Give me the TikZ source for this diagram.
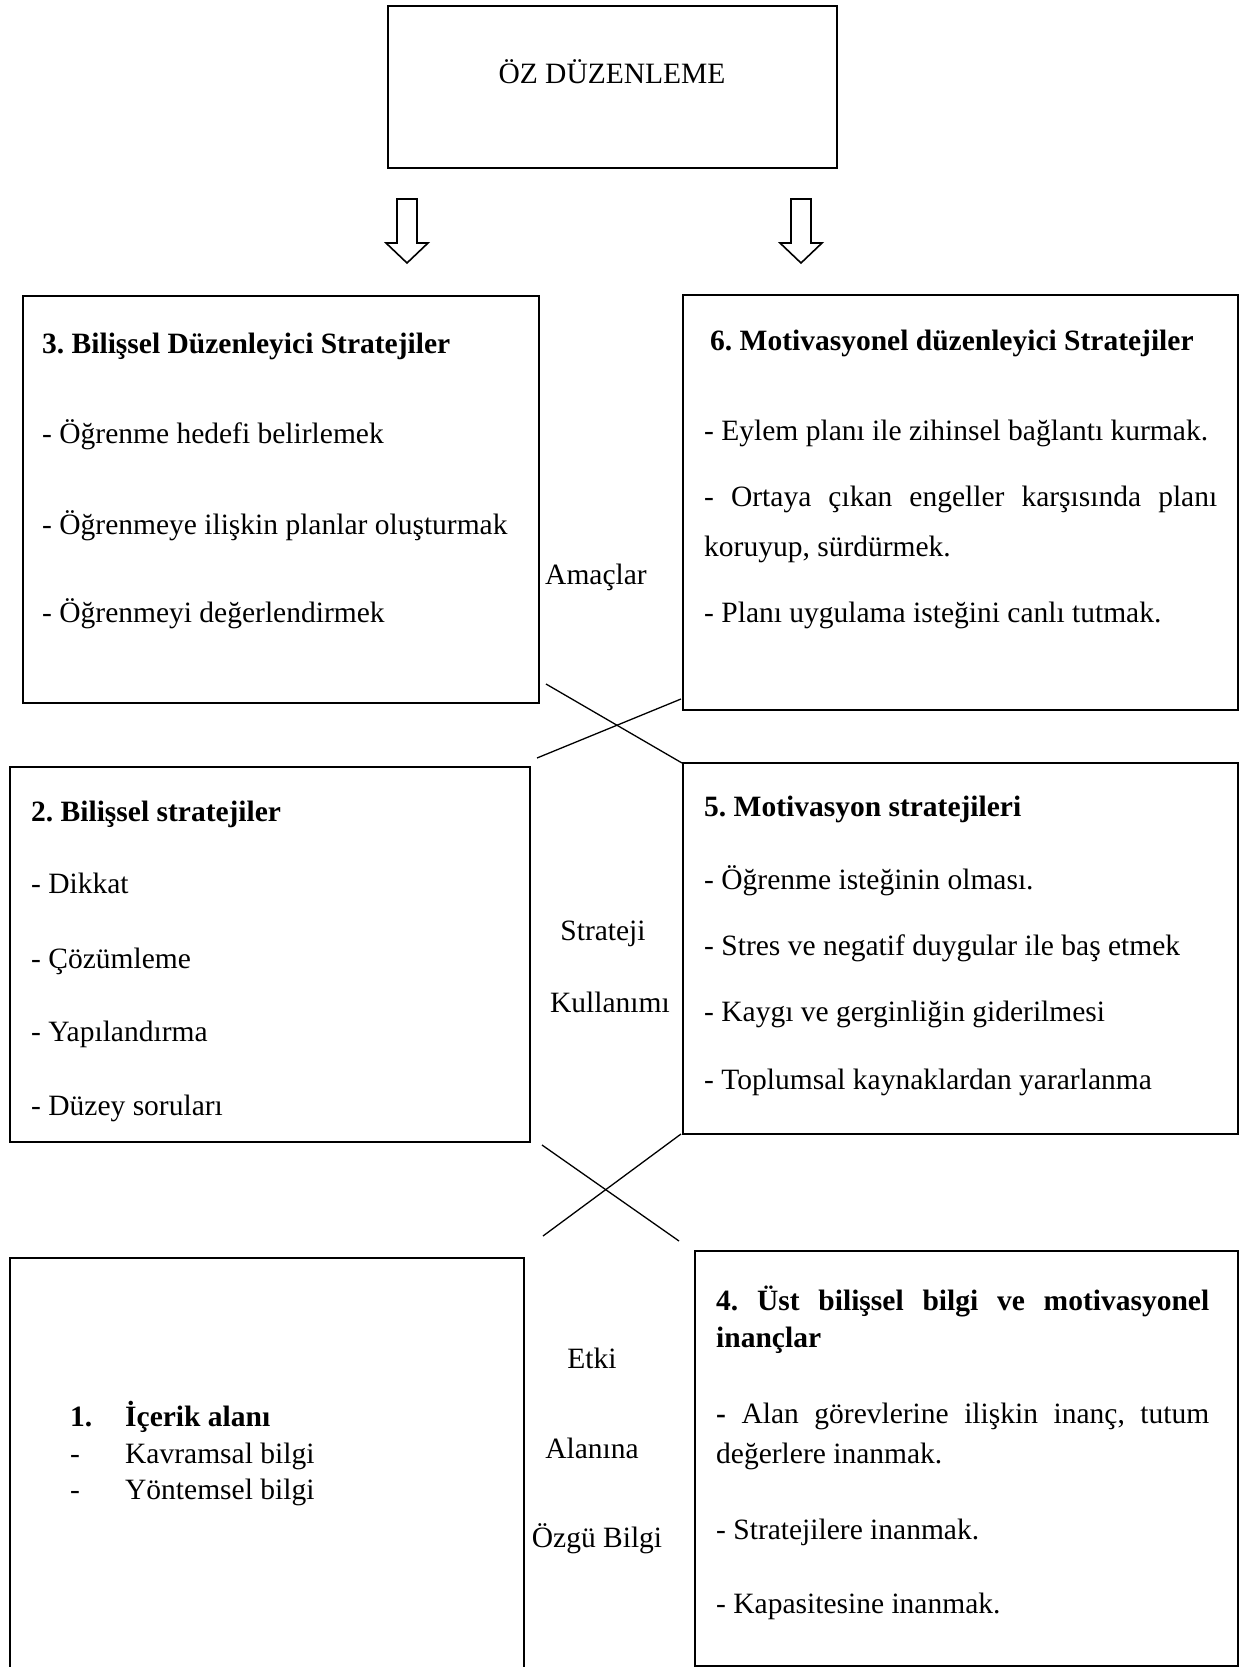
\documentclass[tikz,border=0pt]{standalone}
\usepackage{fontspec}
\setmainfont{Liberation Serif}
\usepackage{tikz}
\frenchspacing

\begin{document}
\begin{tikzpicture}[x=1pt,y=1pt,yscale=-1,xscale=1,
  kutu/.style={draw, line width=2.4pt, inner sep=0pt, anchor=north west},
  yazi/.style={inner sep=0pt, anchor=base west, font=\fontsize{29.5}{35}\selectfont},
  baslik/.style={inner sep=0pt, anchor=base west, font=\fontsize{29.5}{35}\selectfont\bfseries},
  orta/.style={inner sep=0pt, anchor=base, font=\fontsize{29.5}{35}\selectfont},
  capraz/.style={line width=1.3pt}]
\clip (0,0) rectangle (1239,1667);

%Shape: Rectangle
\node[kutu, minimum width=449, minimum height=162] (oz) at (387,5) {};
%Shape: Rectangle
\node[kutu, minimum width=516, minimum height=407] (bilduz) at (22,295) {};
%Shape: Rectangle
\node[kutu, minimum width=555, minimum height=415] (motduz) at (682,294) {};
%Shape: Rectangle
\node[kutu, minimum width=520, minimum height=375] (bilstr) at (9,766) {};
%Shape: Rectangle
\node[kutu, minimum width=555, minimum height=371] (motstr) at (682,762) {};
%Shape: Rectangle
\node[kutu, minimum width=514, minimum height=430] (icerik) at (9,1257) {};
%Shape: Rectangle
\node[kutu, minimum width=543, minimum height=415] (ustbil) at (694,1250) {};

%Shape: Down Arrow
\draw[line width=1.6pt] (397,199) -- (417,199) -- (417,243) -- (428,243) -- (407,263) -- (386,243) -- (397,243) -- cycle ;
%Shape: Down Arrow
\draw[line width=1.6pt] (791,199) -- (811,199) -- (811,243) -- (822,243) -- (801,263) -- (780,243) -- (791,243) -- cycle ;

%Straight Lines
\coordinate (ua) at (546,684);
\coordinate (ub) at (682,763);
\coordinate (uc) at (537,758);
\coordinate (ud) at (681,699);
\draw[capraz] (ua) -- (ub) ;
\draw[capraz] (uc) -- (ud) ;
%Straight Lines
\coordinate (aa) at (542,1145);
\coordinate (ab) at (679,1241);
\coordinate (ac) at (543,1236);
\coordinate (ad) at (681,1134);
\draw[capraz] (aa) -- (ab) ;
\draw[capraz] (ac) -- (ad) ;

% Text Node
\node[orta] (t0) at (612,84) {ÖZ DÜZENLEME};

% Text Node
\node[baslik] (t3) at (42,353) {3. Bilişsel Düzenleyici Stratejiler};
\node[yazi] (t3a) at (42,443) {- Öğrenme hedefi belirlemek};
\node[yazi] (t3b) at (42,534) {- Öğrenmeye ilişkin planlar oluşturmak};
\node[yazi] (t3c) at (42,622) {- Öğrenmeyi değerlendirmek};

% Text Node
\node[baslik] (t6) at (710,350) {6. Motivasyonel düzenleyici Stratejiler};
\node[yazi] (t6a) at (704,440) {- Eylem planı ile zihinsel bağlantı kurmak.};
\node[yazi] (t6b) at (704,506) {\makebox[513pt][s]{- Ortaya çıkan engeller karşısında planı}};
\node[yazi] (t6c) at (704,556) {koruyup, sürdürmek.};
\node[yazi] (t6d) at (704,622) {- Planı uygulama isteğini canlı tutmak.};

% Text Node
\node[baslik] (t2) at (31,821) {2. Bilişsel stratejiler};
\node[yazi] (t2a) at (31,893) {- Dikkat};
\node[yazi] (t2b) at (31,968) {- Çözümleme};
\node[yazi] (t2c) at (31,1041) {- Yapılandırma};
\node[yazi] (t2d) at (31,1115) {- Düzey soruları};

% Text Node
\node[baslik] (t5) at (704,816) {5. Motivasyon stratejileri};
\node[yazi] (t5a) at (704,889) {- Öğrenme isteğinin olması.};
\node[yazi] (t5b) at (704,955) {- Stres ve negatif duygular ile baş etmek};
\node[yazi] (t5c) at (704,1021) {- Kaygı ve gerginliğin giderilmesi};
\node[yazi] (t5d) at (704,1089) {- Toplumsal kaynaklardan yararlanma};

% Text Node
\node[baslik] (t1) at (70,1426) {\makebox[55pt][l]{1.}İçerik alanı};
\node[yazi] (t1a) at (70,1463) {\makebox[55pt][l]{-}Kavramsal bilgi};
\node[yazi] (t1b) at (70,1499) {\makebox[55pt][l]{-}Yöntemsel bilgi};

% Text Node
\node[baslik] (t4) at (716,1310) {\makebox[493pt][s]{4. Üst bilişsel bilgi ve motivasyonel}};
\node[baslik] (t4x) at (716,1347) {inançlar};
\node[yazi] (t4a) at (716,1423) {\makebox[493pt][s]{\textbf{-} Alan görevlerine ilişkin inanç, tutum}};
\node[yazi] (t4b) at (716,1463) {değerlere inanmak.};
\node[yazi] (t4c) at (716,1539) {- Stratejilere inanmak.};
\node[yazi] (t4d) at (716,1613) {- Kapasitesine inanmak.};

% Text Node
\node[orta] (amac) at (596,584) {Amaçlar};
\node[orta] (strat) at (603,940) {Strateji};
\node[orta] (kull) at (610,1012) {Kullanımı};
\node[orta] (etki) at (592,1368) {Etki};
\node[orta] (alan) at (592,1458) {Alanına};
\node[orta] (ozgu) at (597,1547) {Özgü Bilgi};

\end{tikzpicture}
\end{document}
